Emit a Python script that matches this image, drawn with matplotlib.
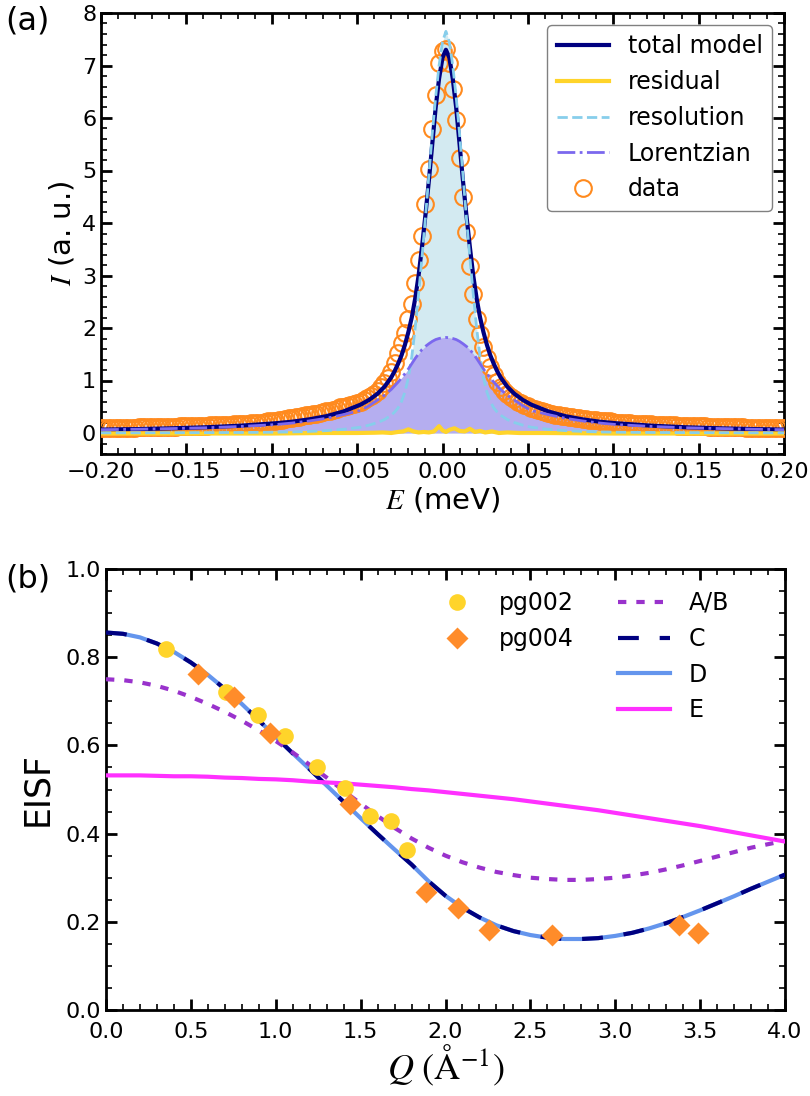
import matplotlib
matplotlib.use("Agg")
import matplotlib.pyplot as plt
from matplotlib.ticker import MultipleLocator
from matplotlib.lines import Line2D

# ---------------- panel (a): quasielastic spectrum ----------------
energy_data = [
    -0.200, -0.198, -0.196, -0.194, -0.192, -0.190, -0.188, -0.186, -0.184, -0.182,
    -0.180, -0.178, -0.176, -0.174, -0.172, -0.170, -0.168, -0.166, -0.164, -0.162,
    -0.160, -0.158, -0.156, -0.154, -0.152, -0.150, -0.148, -0.146, -0.144, -0.142,
    -0.140, -0.138, -0.136, -0.134, -0.132, -0.130, -0.128, -0.126, -0.124, -0.122,
    -0.120, -0.118, -0.116, -0.114, -0.112, -0.110, -0.108, -0.106, -0.104, -0.102,
    -0.100, -0.098, -0.096, -0.094, -0.092, -0.090, -0.088, -0.086, -0.084, -0.082,
    -0.080, -0.078, -0.076, -0.074, -0.072, -0.070, -0.068, -0.066, -0.064, -0.062,
    -0.060, -0.058, -0.056, -0.054, -0.052, -0.050, -0.048, -0.046, -0.044, -0.042,
    -0.040, -0.038, -0.036, -0.034, -0.032, -0.030, -0.028, -0.026, -0.024, -0.022,
    -0.020, -0.018, -0.016, -0.014, -0.012, -0.010, -0.008, -0.006, -0.004, -0.002,
    0.000,
    0.002, 0.004, 0.006, 0.008, 0.010, 0.012, 0.014, 0.016, 0.018, 0.020,
    0.022, 0.024, 0.026, 0.028, 0.030, 0.032, 0.034, 0.036, 0.038, 0.040,
    0.042, 0.044, 0.046, 0.048, 0.050, 0.052, 0.054, 0.056, 0.058, 0.060,
    0.062, 0.064, 0.066, 0.068, 0.070, 0.072, 0.074, 0.076, 0.078, 0.080,
    0.082, 0.084, 0.086, 0.088, 0.090, 0.092, 0.094, 0.096, 0.098, 0.100,
    0.102, 0.104, 0.106, 0.108, 0.110, 0.112, 0.114, 0.116, 0.118, 0.120,
    0.122, 0.124, 0.126, 0.128, 0.130, 0.132, 0.134, 0.136, 0.138, 0.140,
    0.142, 0.144, 0.146, 0.148, 0.150, 0.152, 0.154, 0.156, 0.158, 0.160,
    0.162, 0.164, 0.166, 0.168, 0.170, 0.172, 0.174, 0.176, 0.178, 0.180,
    0.182, 0.184, 0.186, 0.188, 0.190, 0.192, 0.194, 0.196, 0.198, 0.200,
]
intensity_data = [
    0.09, 0.09, 0.09, 0.09, 0.10, 0.10, 0.10, 0.10, 0.10, 0.10,
    0.10, 0.11, 0.11, 0.11, 0.11, 0.11, 0.11, 0.12, 0.12, 0.12,
    0.12, 0.12, 0.12, 0.13, 0.13, 0.13, 0.13, 0.13, 0.14, 0.14,
    0.14, 0.14, 0.15, 0.15, 0.15, 0.15, 0.16, 0.16, 0.16, 0.17,
    0.17, 0.17, 0.18, 0.18, 0.19, 0.19, 0.20, 0.20, 0.21, 0.22,
    0.23, 0.23, 0.24, 0.25, 0.26, 0.28, 0.29, 0.30, 0.31, 0.33,
    0.34, 0.35, 0.36, 0.37, 0.38, 0.40, 0.41, 0.42, 0.44, 0.46,
    0.49, 0.50, 0.52, 0.54, 0.56, 0.58, 0.60, 0.62, 0.66, 0.70,
    0.74, 0.80, 0.87, 0.95, 1.05, 1.17, 1.34, 1.53, 1.72, 1.91,
    2.17, 2.45, 2.85, 3.30, 3.76, 4.36, 5.03, 5.80, 6.44, 7.04,
    7.28,
    7.31, 7.04, 6.56, 5.96, 5.23, 4.49, 3.82, 3.19, 2.64, 2.17,
    1.88, 1.64, 1.43, 1.25, 1.10, 0.98, 0.88, 0.80, 0.74, 0.68,
    0.64, 0.60, 0.57, 0.54, 0.51, 0.48, 0.46, 0.44, 0.42, 0.40,
    0.38, 0.37, 0.35, 0.34, 0.33, 0.32, 0.31, 0.30, 0.29, 0.28,
    0.27, 0.26, 0.25, 0.25, 0.24, 0.23, 0.23, 0.22, 0.22, 0.21,
    0.20, 0.20, 0.20, 0.19, 0.19, 0.18, 0.18, 0.18, 0.17, 0.17,
    0.17, 0.16, 0.16, 0.16, 0.15, 0.15, 0.15, 0.15, 0.14, 0.14,
    0.14, 0.14, 0.13, 0.13, 0.13, 0.13, 0.13, 0.12, 0.12, 0.12,
    0.12, 0.12, 0.11, 0.11, 0.11, 0.11, 0.11, 0.11, 0.10, 0.10,
    0.10, 0.10, 0.10, 0.10, 0.10, 0.09, 0.09, 0.09, 0.09, 0.09,
]

energy_fit = [
    -0.200, -0.178, -0.158, -0.138, -0.118, -0.098, -0.088, -0.078, -0.068, -0.058,
    -0.048, -0.043, -0.038, -0.034, -0.030, -0.028, -0.026, -0.024, -0.022, -0.020,
    -0.018, -0.016, -0.014, -0.012, -0.010, -0.008, -0.006, -0.004, -0.002, 0.000,
    0.002,
    0.004, 0.006, 0.008, 0.010, 0.012, 0.014, 0.016, 0.018, 0.020, 0.022,
    0.024, 0.026, 0.028, 0.030, 0.032, 0.034, 0.038, 0.042, 0.047, 0.052,
    0.062, 0.072, 0.082, 0.092, 0.102, 0.122, 0.142, 0.162, 0.182, 0.200,
]
total_model = [
    0.065, 0.075, 0.09, 0.11, 0.14, 0.185, 0.215, 0.26, 0.32, 0.41,
    0.54, 0.63, 0.75, 0.88, 1.06, 1.18, 1.32, 1.48, 1.68, 1.92,
    2.20, 2.56, 3.00, 3.55, 4.15, 4.80, 5.50, 6.20, 6.75, 7.15,
    7.30,
    7.15, 6.75, 6.20, 5.50, 4.80, 4.15, 3.55, 3.00, 2.56, 2.20,
    1.92, 1.68, 1.48, 1.32, 1.18, 1.06, 0.88, 0.75, 0.63, 0.54,
    0.41, 0.32, 0.26, 0.215, 0.185, 0.14, 0.11, 0.09, 0.075, 0.065,
]
resolution = [
    0.003, 0.004, 0.005, 0.007, 0.010, 0.015, 0.020, 0.030, 0.045, 0.070,
    0.110, 0.150, 0.200, 0.255, 0.340, 0.400, 0.480, 0.600, 0.780, 1.050,
    1.450, 2.000, 2.650, 3.350, 4.100, 4.900, 5.700, 6.400, 7.000, 7.450,
    7.650,
    7.450, 7.000, 6.400, 5.700, 4.900, 4.100, 3.350, 2.650, 2.000, 1.450,
    1.050, 0.780, 0.600, 0.480, 0.400, 0.340, 0.255, 0.200, 0.150, 0.110,
    0.070, 0.045, 0.030, 0.020, 0.015, 0.010, 0.007, 0.005, 0.004, 0.003,
]
lorentzian = [
    0.063, 0.072, 0.085, 0.100, 0.125, 0.160, 0.190, 0.230, 0.280, 0.350,
    0.430, 0.520, 0.630, 0.720, 0.830, 0.900, 0.970, 1.050, 1.130, 1.220,
    1.320, 1.420, 1.510, 1.590, 1.650, 1.700, 1.745, 1.780, 1.800, 1.815,
    1.820,
    1.815, 1.800, 1.780, 1.745, 1.700, 1.650, 1.590, 1.510, 1.420, 1.320,
    1.220, 1.130, 1.050, 0.970, 0.900, 0.830, 0.720, 0.630, 0.520, 0.430,
    0.350, 0.280, 0.230, 0.190, 0.160, 0.125, 0.100, 0.085, 0.072, 0.063,
]
energy_resid = [
    -0.200, -0.150, -0.100, -0.070, -0.050, -0.040, -0.035, -0.030, -0.026, -0.023,
    -0.020, -0.017, -0.014, -0.011, -0.008, -0.005, -0.002, 0.000, 0.002, 0.004,
    0.007, 0.010, 0.013, 0.016, 0.019, 0.022, 0.025, 0.029, 0.033, 0.038,
    0.045, 0.060, 0.100, 0.150, 0.200,
]
residual = [
    -0.01, -0.01, -0.01, 0.00, 0.00, 0.005, 0.01, 0.00, 0.02, 0.03,
    0.07, 0.03, 0.01, 0.02, 0.01, 0.03, 0.13, 0.05, 0.02, 0.06,
    0.09, 0.04, 0.03, 0.08, 0.02, 0.04, 0.01, 0.03, 0.00, 0.01,
    0.00, 0.00, -0.01, -0.01, -0.01,
]

# ---------------- panel (b): EISF ----------------
q_pg002 = [0.356, 0.709, 0.897, 1.052, 1.241, 1.408, 1.557, 1.676, 1.771]
eisf_pg002 = [0.819, 0.720, 0.669, 0.622, 0.550, 0.503, 0.441, 0.429, 0.362]
q_pg004 = [0.541, 0.754, 0.967, 1.439, 1.886, 2.075, 2.254, 2.625, 3.373, 3.489]
eisf_pg004 = [0.762, 0.709, 0.628, 0.468, 0.268, 0.231, 0.181, 0.170, 0.192, 0.175]

q_model = [
    0.0, 0.1, 0.2, 0.3, 0.4, 0.5, 0.6, 0.7, 0.8, 0.9,
    1.0, 1.1, 1.2, 1.3, 1.4, 1.5, 1.6, 1.7, 1.8, 1.9,
    2.0, 2.1, 2.2, 2.3, 2.4, 2.5, 2.6, 2.7, 2.8, 2.9,
    3.0, 3.1, 3.2, 3.3, 3.4, 3.5, 3.6, 3.7, 3.8, 3.9, 4.0,
]
eisf_AB = [
    0.750, 0.748, 0.743, 0.735, 0.724, 0.710, 0.694, 0.676, 0.656, 0.634,
    0.610, 0.584, 0.556, 0.527, 0.497, 0.468, 0.440, 0.413, 0.389, 0.368,
    0.350, 0.335, 0.323, 0.313, 0.306, 0.300, 0.297, 0.295, 0.295, 0.297,
    0.300, 0.305, 0.311, 0.319, 0.328, 0.338, 0.348, 0.358, 0.368, 0.376, 0.384,
]
eisf_C = [
    0.856, 0.853, 0.845, 0.831, 0.812, 0.788, 0.760, 0.728, 0.694, 0.657,
    0.619, 0.582, 0.546, 0.509, 0.472, 0.435, 0.399, 0.364, 0.330, 0.292,
    0.259, 0.232, 0.210, 0.192, 0.179, 0.170, 0.164, 0.161, 0.161, 0.163,
    0.168, 0.175, 0.185, 0.197, 0.211, 0.226, 0.242, 0.258, 0.275, 0.291, 0.307,
]
eisf_D = eisf_C
eisf_E = [
    0.532, 0.532, 0.532, 0.531, 0.530, 0.530, 0.529, 0.527, 0.526, 0.524,
    0.523, 0.521, 0.518, 0.516, 0.514, 0.511, 0.508, 0.505, 0.501, 0.498,
    0.494, 0.490, 0.486, 0.482, 0.478, 0.473, 0.468, 0.463, 0.458, 0.453,
    0.447, 0.441, 0.435, 0.429, 0.423, 0.417, 0.410, 0.403, 0.396, 0.389, 0.382,
]

# ---------------- styling ----------------
plt.rcParams["font.family"] = ["DejaVu Sans"]
plt.rcParams["mathtext.fontset"] = "stix"
plt.rcParams["font.size"] = 16

W, H = 810, 1096
fig = plt.figure(figsize=(W / 100, H / 100), dpi=100)


def frac_axes(left, top, right, bottom):
    return fig.add_axes([left / W, 1 - bottom / H, (right - left) / W, (bottom - top) / H])


def style_axes(ax, xmaj, xmin, ymaj, ymin, xpad=4):
    ax.xaxis.set_major_locator(MultipleLocator(xmaj))
    ax.xaxis.set_minor_locator(MultipleLocator(xmin))
    ax.yaxis.set_major_locator(MultipleLocator(ymaj))
    ax.yaxis.set_minor_locator(MultipleLocator(ymin))
    ax.tick_params(which="both", direction="in", top=True, right=True, labelsize=16)
    ax.tick_params(which="major", length=8, width=2)
    ax.tick_params(which="minor", length=4, width=1.2)
    ax.tick_params(axis="x", which="major", pad=xpad)
    for s in ax.spines.values():
        s.set_linewidth(2)


# ---- panel (a)
ax1 = frac_axes(101, 13, 784, 454)
ax1.fill_between(energy_fit, 0, resolution, color="#d3eaf1", lw=0, zorder=1)
ax1.fill_between(energy_fit, 0, lorentzian, color="#b5aef0", lw=0, zorder=2)
ax1.plot(energy_data, intensity_data, "o", ms=12, mfc="none", mec="#ff8a1e", mew=1.5, zorder=3)
ax1.plot(energy_fit, total_model, color="navy", lw=3, zorder=4)
ax1.plot(energy_resid, residual, color="#ffd42a", lw=3, zorder=5)
ax1.plot(energy_fit, resolution, color="skyblue", lw=2, ls="--", zorder=6)
ax1.plot(energy_fit, lorentzian, color="mediumslateblue", lw=2, ls="-.", zorder=7)
ax1.set_xlim(-0.2, 0.2)
ax1.set_ylim(-0.4, 8)
style_axes(ax1, 0.05, 0.01, 1, 0.2, xpad=6)
ax1.set_xlabel(r"$E$ (meV)", fontsize=21, labelpad=2)
ax1.set_ylabel(r"$I$ (a. u.)", fontsize=21, labelpad=4)

h_a = [
    Line2D([], [], color="navy", lw=3),
    Line2D([], [], color="#ffd42a", lw=3),
    Line2D([], [], color="skyblue", lw=2, ls="--"),
    Line2D([], [], color="mediumslateblue", lw=2, ls="-."),
    Line2D([], [], ls="none", marker="o", ms=12, mfc="none", mec="#ff8a1e", mew=1.5),
]
leg = ax1.legend(h_a, ["total model", "residual", "resolution", "Lorentzian", "data"],
                 loc="upper right", fontsize=17, handlelength=2.2, fancybox=True,
                 framealpha=1, edgecolor="0.5")
leg.get_frame().set_linewidth(1.0)

# ---- panel (b)
ax2 = frac_axes(106, 569, 785, 1010)
ax2.plot(q_model, eisf_D, color="cornflowerblue", lw=3, zorder=2)
ax2.plot(q_model, eisf_C, color="navy", lw=3, dashes=(5, 5), zorder=3)
ax2.plot(q_model, eisf_AB, color="darkorchid", lw=3, dashes=(2, 2.4), zorder=3)
ax2.plot(q_model, eisf_E, color="#ff30ff", lw=3, zorder=3)
ax2.plot(q_pg002, eisf_pg002, "o", ms=12, color="#ffd42a", mec="none", zorder=5)
ax2.plot(q_pg004, eisf_pg004, "D", ms=11, color="#ff8c2a", mec="none", zorder=6)
ax2.set_xlim(0, 4)
ax2.set_ylim(0, 1)
style_axes(ax2, 0.5, 0.1, 0.2, 0.05, xpad=9)
ax2.set_xlabel(r"$Q\ (\mathrm{\AA}^{-1})$", fontsize=26, labelpad=0)
ax2.set_ylabel("EISF", fontsize=25, labelpad=8)

h_pts = [
    Line2D([], [], ls="none", marker="o", ms=12, color="#ffd42a", mec="none"),
    Line2D([], [], ls="none", marker="D", ms=11, color="#ff8c2a", mec="none"),
]
leg1 = fig.legend(h_pts, ["pg002", "pg004"], loc="upper left",
                  bbox_to_anchor=(433 / W, 1 - 591 / H), frameon=False, fontsize=17,
                  borderpad=0, borderaxespad=0, handlelength=2.0)
h_lines = [
    Line2D([], [], color="darkorchid", lw=3, dashes=(2, 2.4)),
    Line2D([], [], color="navy", lw=3, dashes=(5, 5)),
    Line2D([], [], color="cornflowerblue", lw=3),
    Line2D([], [], color="#ff30ff", lw=3),
]
leg2 = fig.legend(h_lines, ["A/B", "C", "D", "E"], loc="upper left",
                  bbox_to_anchor=(618 / W, 1 - 591 / H), frameon=False, fontsize=17,
                  borderpad=0, borderaxespad=0, handlelength=2.2)

fig.text(5 / W, 1 - 6 / H, "(a)", fontsize=23, va="top", ha="left")
fig.text(5 / W, 1 - 564 / H, "(b)", fontsize=23, va="top", ha="left")

fig.savefig("out.png", dpi=100)
